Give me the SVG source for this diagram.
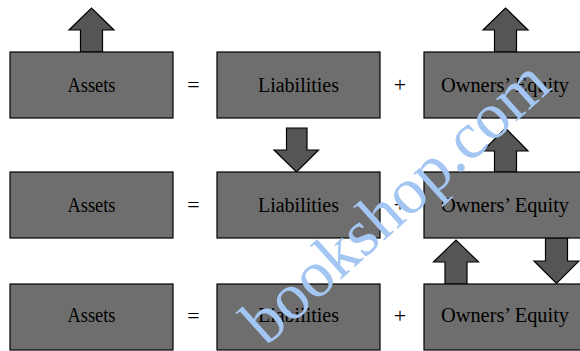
<svg xmlns="http://www.w3.org/2000/svg" width="580" height="351" viewBox="0 0 580 351">
<style>
.box{fill:#6e6e6e;stroke:#000;stroke-width:1.2}
.arr{fill:#555555;stroke:#000;stroke-width:1.2;stroke-linejoin:miter}
.lbl{font-family:"Liberation Serif","Times New Roman",serif;font-size:20px;fill:#000;text-anchor:middle}
.op{font-family:"Liberation Serif","Times New Roman",serif;font-size:22px;fill:#000;text-anchor:middle}
.wm{font-family:"Liberation Serif","Times New Roman",serif;font-size:66px;fill:#a4c6f2}
</style>
<rect width="580" height="351" fill="#fff"/>
<g id="connectors">
<polygon class="arr" points="80.5,52 80.5,30 69,30 91.5,8 114,30 102.5,30 102.5,52"/>
<polygon class="arr" points="494.5,52 494.5,30 483,30 505.5,8 528,30 516.5,30 516.5,52"/>
<polygon class="arr" points="286.5,128 307,128 307,150 318.5,150 296.5,172 274,150 286.5,150"/>
<polygon class="arr" points="494.5,172 494.5,151 483,151 505.5,128 528,151 516.5,151 516.5,172"/>
<polygon class="arr" points="445,284 445,262 433.5,262 456,240 478.5,262 467,262 467,284"/>
<polygon class="arr" points="545.5,238 567.5,238 567.5,261 579,261 556.5,283.5 534,261 545.5,261"/>
</g>
<g id="row1">
<g id="assets1"><rect class="box" x="10" y="52" width="163" height="66"/><text class="lbl" x="91.5" y="91.5" textLength="48" lengthAdjust="spacingAndGlyphs">Assets</text></g>
<text class="op" x="193.5" y="92">=</text>
<g id="liab1"><rect class="box" x="217" y="52" width="163" height="66"/><text class="lbl" x="298.5" y="91.5" textLength="81" lengthAdjust="spacingAndGlyphs">Liabilities</text></g>
<text class="op" x="400" y="92">+</text>
<g id="oe1"><rect class="box" x="424" y="52" width="163" height="66"/><text class="lbl" x="505" y="91.5" textLength="128" lengthAdjust="spacingAndGlyphs">Owners’ Equity</text></g>
</g>
<g id="row2">
<g id="assets2"><rect class="box" x="10" y="172" width="163" height="66"/><text class="lbl" x="91.5" y="211.5" textLength="48" lengthAdjust="spacingAndGlyphs">Assets</text></g>
<text class="op" x="193.5" y="212">=</text>
<g id="liab2"><rect class="box" x="217" y="172" width="163" height="66"/><text class="lbl" x="298.5" y="211.5" textLength="81" lengthAdjust="spacingAndGlyphs">Liabilities</text></g>
<text class="op" x="400" y="212">+</text>
<g id="oe2"><rect class="box" x="424" y="172" width="163" height="66"/><text class="lbl" x="505" y="211.5" textLength="128" lengthAdjust="spacingAndGlyphs">Owners’ Equity</text></g>
</g>
<g id="row3">
<g id="assets3"><rect class="box" x="10" y="284" width="163" height="66"/><text class="lbl" x="91.5" y="322" textLength="48" lengthAdjust="spacingAndGlyphs">Assets</text></g>
<text class="op" x="193.5" y="322.5">=</text>
<g id="liab3"><rect class="box" x="217" y="284" width="163" height="66"/><text class="lbl" x="298.5" y="322" textLength="81" lengthAdjust="spacingAndGlyphs">Liabilities</text></g>
<text class="op" x="400" y="322.5">+</text>
<g id="oe3"><rect class="box" x="424" y="284" width="163" height="66"/><text class="lbl" x="505" y="322" textLength="128" lengthAdjust="spacingAndGlyphs">Owners’ Equity</text></g>
</g>
<text class="wm" transform="translate(266,347) rotate(-42)">bookshop.com</text>
</svg>
